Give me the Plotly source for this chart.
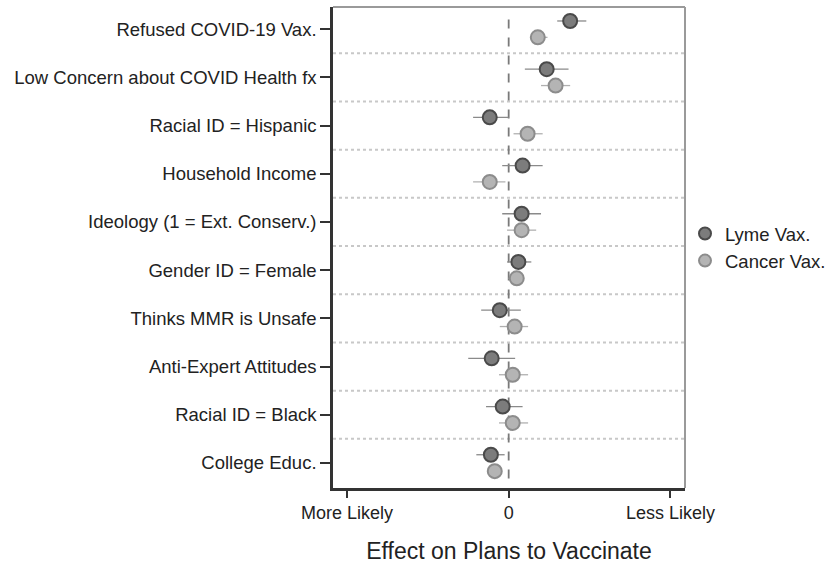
import plotly.graph_objects as go

# Predictors, top to bottom
categories = [
    "Refused COVID-19 Vax.",
    "Low Concern about COVID Health fx",
    "Racial ID = Hispanic",
    "Household Income",
    "Ideology (1 = Ext. Conserv.)",
    "Gender ID = Female",
    "Thinks MMR is Unsafe",
    "Anti-Expert Attitudes",
    "Racial ID = Black",
    "College Educ.",
]

# Coefficients and 95% interval bounds (scaled so -1 = more likely, 1 = less likely)
lyme_est = [0.38, 0.235, -0.117, 0.086, 0.08, 0.06, -0.055, -0.105, -0.037, -0.11]
lyme_lo = [0.30, 0.10, -0.22, -0.04, -0.04, -0.01, -0.17, -0.25, -0.14, -0.20]
lyme_hi = [0.48, 0.37, 0.00, 0.21, 0.20, 0.14, 0.075, 0.04, 0.086, -0.025]

cancer_est = [0.18, 0.29, 0.117, -0.117, 0.08, 0.05, 0.037, 0.025, 0.025, -0.086]
cancer_lo = [0.14, 0.20, 0.03, -0.22, -0.01, 0.00, -0.055, -0.06, -0.06, -0.12]
cancer_hi = [0.24, 0.38, 0.21, -0.02, 0.17, 0.09, 0.12, 0.12, 0.12, -0.05]

x_ticks = [-1, 0, 1]
x_tick_text = ["More Likely", "0", "Less Likely"]

n = len(categories)
base = [n - 1 - i for i in range(n)]
off = 0.17

fig = go.Figure()

# Band separators between predictors
for k in range(n - 1):
    fig.add_shape(type="line", xref="paper", x0=0, x1=1, y0=k + 0.5, y1=k + 0.5,
                  line=dict(color="#c8c8c8", width=2, dash="dot"), layer="below")

# Reference line at zero
fig.add_shape(type="line", x0=0, x1=0, yref="paper", y0=0.02, y1=0.975,
              line=dict(color="#7a7a7a", width=1.8, dash="dash"), layer="below")

fig.add_trace(go.Scatter(
    x=lyme_est, y=[b + off for b in base], mode="markers", name="Lyme Vax.",
    marker=dict(size=14, color="#7c7c7c", line=dict(color="#4a4a4a", width=2)),
    error_x=dict(type="data", symmetric=False,
                 array=[h - e for h, e in zip(lyme_hi, lyme_est)],
                 arrayminus=[e - l for e, l in zip(lyme_est, lyme_lo)],
                 color="#8a8a8a", thickness=1.3, width=0),
))
fig.add_trace(go.Scatter(
    x=cancer_est, y=[b - off for b in base], mode="markers", name="Cancer Vax.",
    marker=dict(size=14, color="#b4b4b4", line=dict(color="#8c8c8c", width=2)),
    error_x=dict(type="data", symmetric=False,
                 array=[h - e for h, e in zip(cancer_hi, cancer_est)],
                 arrayminus=[e - l for e, l in zip(cancer_est, cancer_lo)],
                 color="#b0b0b0", thickness=1.3, width=0),
))

# Lighter top and right frame edges
fig.add_shape(type="line", xref="paper", yref="paper", x0=0, x1=1, y0=1, y1=1,
              line=dict(color="#9a9a9a", width=2))
fig.add_shape(type="line", xref="paper", yref="paper", x0=1, x1=1, y0=0, y1=1,
              line=dict(color="#9a9a9a", width=2))

font = "Liberation Sans, Arial, sans-serif"
fig.update_layout(
    width=836, height=575,
    margin=dict(l=333, r=151, t=7, b=87, autoexpand=False),
    paper_bgcolor="white", plot_bgcolor="white",
    font=dict(family=font, size=18, color="#222"),
    showlegend=True,
    legend=dict(x=1.0, y=0.5, xanchor="left", yanchor="middle",
                font=dict(size=18.5, color="#222"), itemsizing="constant",
                itemwidth=30, tracegroupgap=0, bgcolor="rgba(0,0,0,0)"),
    xaxis=dict(range=[-1.086, 1.09], tickvals=x_ticks, ticktext=x_tick_text,
               ticks="outside", ticklen=7, tickwidth=2, tickcolor="#333",
               showline=True, linecolor="#333", linewidth=2.5,
               showgrid=False, zeroline=False,
               tickfont=dict(size=18, color="#222"),
               title=dict(text="Effect on Plans to Vaccinate",
                          font=dict(size=23, color="#222"), standoff=21)),
    yaxis=dict(range=[-0.52, 9.46], tickvals=base, ticktext=categories,
               ticks="outside", ticklen=10, tickwidth=1.5, tickcolor="#333",
               showline=True, linecolor="#333", linewidth=2.5,
               showgrid=False, zeroline=False,
               tickfont=dict(size=18.5, color="#222")),
)

fig.write_html("out.html")
